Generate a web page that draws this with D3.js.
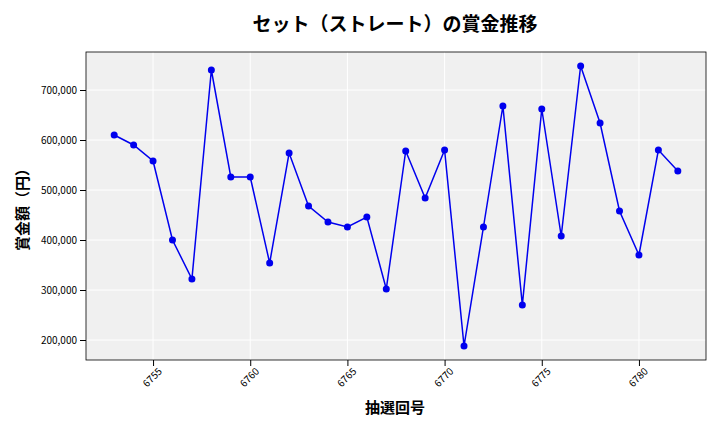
<!DOCTYPE html>
<html><head><meta charset="utf-8">
<script src="https://cdn.jsdelivr.net/npm/d3@7"></script>
<style>body{margin:0;background:#fff}text{font-family:"Noto Sans CJK JP","DejaVu Sans",sans-serif}</style>
</head><body><svg></svg>
<script>
let draws = d3.range(6753, 6783);
let prizes = [610000, 590000, 558000, 400000, 322000, 740000, 526000, 526000, 354000, 574000,
  468000, 436000, 426000, 446000, 302000, 578000, 484000, 580000, 188000, 426000,
  668000, 270000, 662000, 408000, 748000, 634000, 458000, 370000, 580000, 538000];
let xTicks = [6755, 6760, 6765, 6770, 6775, 6780];
let yTicks = [200000, 300000, 400000, 500000, 600000, 700000];

let margin = {top: 52, right: 14, bottom: 72, left: 86};
let width = 720 - margin.left - margin.right;
let height = 432 - margin.top - margin.bottom;

let svg = d3.select("svg").attr("width", 720).attr("height", 432);
let g = svg.append("g").attr("transform", `translate(${margin.left},${margin.top})`);

let x = d3.scaleLinear().domain([6751.55, 6783.45]).range([0, width]);
let y = d3.scaleLinear().domain([160000, 776000]).range([height, 0]);

g.append("rect").attr("width", width).attr("height", height).attr("fill", "#f0f0f0");
g.selectAll(".gx").data(xTicks).join("line")
  .attr("x1", d => x(d)).attr("x2", d => x(d)).attr("y1", 0).attr("y2", height)
  .attr("stroke", "#fff").attr("stroke-width", 1);
g.selectAll(".gy").data(yTicks).join("line")
  .attr("y1", d => y(d)).attr("y2", d => y(d)).attr("x1", 0).attr("x2", width)
  .attr("stroke", "#fff").attr("stroke-width", 1);
g.append("rect").attr("width", width).attr("height", height).attr("fill", "none").attr("stroke", "#000").attr("stroke-width", 0.8);

let xa = g.append("g").attr("transform", `translate(0,${height})`)
  .call(d3.axisBottom(x).tickValues(xTicks).tickFormat(d3.format("d")).tickSizeOuter(0));
xa.selectAll("text").attr("transform", "rotate(-45)").attr("text-anchor", "end")
  .attr("dx", "-0.2em").attr("dy", "0.6em").style("font-size", "10px");
let ya = g.append("g").call(d3.axisLeft(y).tickValues(yTicks).tickFormat(d3.format(",")).tickSizeOuter(0));
ya.selectAll("text").style("font-size", "10px");
svg.selectAll(".domain").remove();

let pts = draws.map((d, i) => [d, prizes[i]]);
g.append("path").datum(pts)
  .attr("d", d3.line().x(d => x(d[0])).y(d => y(d[1])))
  .attr("fill", "none").attr("stroke", "#0000ee").attr("stroke-width", 1.5);
g.selectAll("circle").data(pts).join("circle")
  .attr("cx", d => x(d[0])).attr("cy", d => y(d[1])).attr("r", 3.5).attr("fill", "#0000ee");

svg.append("text").attr("x", 395).attr("y", 31).attr("text-anchor", "middle")
  .style("font-size", "19px").style("font-weight", "bold").text("セット（ストレート）の賞金推移");
svg.append("text").attr("x", 395).attr("y", 413).attr("text-anchor", "middle")
  .style("font-size", "15px").style("font-weight", "bold").text("抽選回号");
svg.append("text").attr("transform", "translate(28,206) rotate(-90)").attr("text-anchor", "middle")
  .style("font-size", "15px").style("font-weight", "bold").text("賞金額（円）");
</script></body></html>
